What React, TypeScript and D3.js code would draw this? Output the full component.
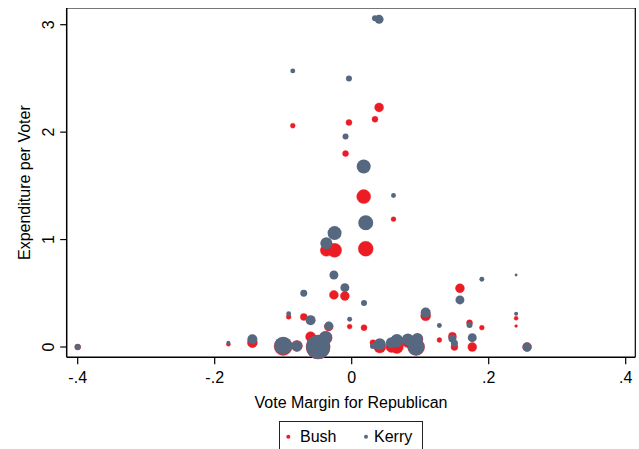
import React from "react";
import * as d3 from "d3";

// One entry per state: vote margin for the Republican, per-voter spending by each campaign,
// and a weight that sets marker area.
const margin = [
  -0.4, -0.18, -0.145, -0.1, -0.092, -0.086, -0.08, -0.07, -0.06, -0.049,
  -0.038, -0.037, -0.0335, -0.026, -0.025, -0.01, -0.009, -0.004, -0.003, 0.0175,
  0.018, 0.0205, 0.031, 0.034, 0.04, 0.041, 0.058, 0.061, 0.066, 0.082,
  0.094, 0.096, 0.108, 0.128, 0.147, 0.15, 0.158, 0.172, 0.176, 0.19,
  0.24, 0.24, 0.256,
];
const bushSpend = [
  0.0, 0.025, 0.04, 0.005, 0.28, 2.06, 0.01, 0.28, 0.096, 0.0,
  0.087, 0.9, 0.19, 0.485, 0.9, 0.475, 1.8, 2.09, 0.19, 1.4,
  0.18, 0.915, 0.04, 2.12, 2.23, 0.0, 0.0, 1.19, 0.0, 0.05,
  0.0, 0.07, 0.29, 0.065, 0.1, 0.0, 0.547, 0.226, 0.0, 0.18,
  0.195, 0.267, 0.0,
];
const kerrySpend = [
  0.0, 0.04, 0.072, 0.012, 0.31, 2.57, 0.01, 0.5, 0.25, 0.0,
  0.087, 0.966, 0.195, 0.67, 1.06, 0.552, 1.96, 2.5, 0.258, 1.68,
  0.41, 1.157, 0.01, 3.06, 3.05, 0.025, 0.04, 1.41, 0.06, 0.07,
  0.0, 0.08, 0.32, 0.2, 0.08, 0.035, 0.438, 0.205, 0.087, 0.63,
  0.67, 0.31, 0.0,
];
const weight = [
  9, 4, 25, 81, 6, 6, 30, 12, 25, 144,
  42, 36, 20, 20, 49, 20, 9, 9, 6, 49,
  9, 56, 9, 9, 20, 36, 30, 6, 42, 36,
  72, 30, 25, 6, 16, 12, 20, 9, 20, 6,
  2, 4, 20,
];

const xTicks = [-0.4, -0.2, 0, 0.2, 0.4];
const yTicks = [0, 1, 2, 3];
const seriesNames = ["Bush", "Kerry"];

const W = 639;
const H = 449;
const BUSH = "#ec1c24";
const KERRY = "#56687f";
const FONT = "'Liberation Sans', Arial, sans-serif";

const plot = { left: 66.7, right: 635.3, top: 8, bottom: 357.3 };

const fmt = (v: number) => (v === 0 ? "0" : String(v).replace("0.", "."));

export default function App() {
  const x = d3.scaleLinear().domain([-0.4, 0.4]).range([77.7, 625.7]);
  const y = d3.scaleLinear().domain([0, 3]).range([347, 24.7]);
  const r = d3.scaleSqrt().domain([0, 144]).range([0, 12]);

  const pts = margin.map((m, i) => ({
    m,
    bush: bushSpend[i],
    kerry: kerrySpend[i],
    w: weight[i],
  }));

  return (
    <svg
      width={W}
      height={H}
      style={{ position: "absolute", left: 0, top: 0, background: "#fff" }}
      fontFamily={FONT}
    >
      <rect x={0} y={0} width={W} height={H} fill="#fff" />

      {/* plot frame */}
      <line x1={plot.left} x2={plot.right} y1={plot.top + 0.5} y2={plot.top + 0.5} stroke="#777" />
      <line x1={plot.right} x2={plot.right} y1={plot.top} y2={plot.bottom} stroke="#000" strokeWidth={1.2} />
      <line x1={plot.left} x2={plot.left} y1={plot.top} y2={plot.bottom} stroke="#000" strokeWidth={1.5} />
      <line x1={plot.left} x2={plot.right} y1={plot.bottom} y2={plot.bottom} stroke="#000" strokeWidth={1.5} />

      {/* y axis */}
      {yTicks.map((t) => (
        <g key={`y${t}`}>
          <line x1={plot.left - 6.5} x2={plot.left} y1={y(t)} y2={y(t)} stroke="#000" strokeWidth={1.2} />
          <text
            transform={`translate(${53.5},${y(t)}) rotate(-90)`}
            textAnchor="middle"
            fontSize={16}
            fill="#000"
          >
            {fmt(t)}
          </text>
        </g>
      ))}
      <text
        transform={`translate(${29.5},${(plot.top + plot.bottom) / 2}) rotate(-90)`}
        textAnchor="middle"
        fontSize={16}
        fill="#000"
      >
        Expenditure per Voter
      </text>

      {/* x axis */}
      {xTicks.map((t) => (
        <g key={`x${t}`}>
          <line x1={x(t)} x2={x(t)} y1={plot.bottom} y2={plot.bottom + 7} stroke="#000" strokeWidth={1.2} />
          <text x={x(t)} y={383} textAnchor="middle" fontSize={16} fill="#000">
            {fmt(t)}
          </text>
        </g>
      ))}
      <text x={(plot.left + plot.right) / 2 + 0} y={408} textAnchor="middle" fontSize={16} fill="#000">
        Vote Margin for Republican
      </text>

      {/* markers: Bush first, Kerry on top */}
      {pts.map((p, i) => (
        <circle key={`b${i}`} cx={x(p.m)} cy={y(p.bush)} r={r(p.w)} fill={BUSH} stroke={BUSH} strokeWidth={0.4} />
      ))}
      {pts.map((p, i) => (
        <circle key={`k${i}`} cx={x(p.m)} cy={y(p.kerry)} r={r(p.w)} fill={KERRY} />
      ))}

      {/* legend */}
      <rect x={279.5} y={421.5} width={143} height={40} fill="#fff" stroke="#222" strokeWidth={1} />
      <circle cx={288.3} cy={436.7} r={2} fill={BUSH} />
      <text x={300} y={442} fontSize={16} fill="#000">
        {seriesNames[0]}
      </text>
      <circle cx={366} cy={436.7} r={2} fill={KERRY} />
      <text x={374} y={442} fontSize={16} fill="#000">
        {seriesNames[1]}
      </text>
    </svg>
  );
}
